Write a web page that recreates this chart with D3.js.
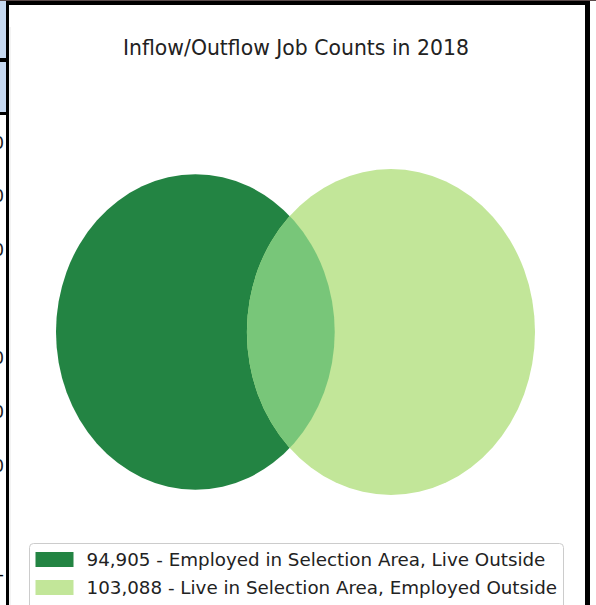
<!DOCTYPE html>
<html>
<head>
<meta charset="utf-8">
<script src="https://d3js.org/d3.v7.min.js"></script>
<style>
  body { margin: 0; background: #fff; }
  text { font-family: "DejaVu Sans", sans-serif; }
</style>
</head>
<body>
<div id="venn"></div>
<script>
// chart data
var title = "Inflow/Outflow Job Counts in 2018";
var setLabels = ["Employed in Selection Area, Live Outside", "Live in Selection Area, Employed Outside"];
var setCounts = [94905, 103088];
var overlapCount = 24300; // estimated, not labelled in the picture
var setColors = ["#238443", "#c2e699"];
var overlapColor = "#78c679";
// cut-off table digits on the left edge
var edgeDigits = ["0", "0", "0", "0", "0", "0"];
var edgeDigitY = [143, 196, 250, 358, 412, 466];

var width = 596;
var height = 605;

var svg = d3.select("#venn")
    .append("svg")
    .attr("width", width)
    .attr("height", height);

// ---- page frame around the chart ----
svg.append("rect").attr("x", 0).attr("y", 0).attr("width", 7).attr("height", 113).style("fill", "#c6d9f1");
svg.append("rect").attr("x", 0).attr("y", 58).attr("width", 8).attr("height", 4).style("fill", "#000");
svg.append("rect").attr("x", 0).attr("y", 112).attr("width", 8).attr("height", 3).style("fill", "#000");
svg.append("rect").attr("x", 0).attr("y", 0).attr("width", width).attr("height", 1).style("fill", "#5a4a4a");
svg.append("rect").attr("x", 6).attr("y", 1).attr("width", 584).attr("height", 4).style("fill", "#000");
svg.append("rect").attr("x", 6).attr("y", 1).attr("width", 3).attr("height", height).style("fill", "#000");
svg.append("rect").attr("x", 585).attr("y", 1).attr("width", 5).attr("height", height).style("fill", "#000");
svg.append("rect").attr("x", 9).attr("y", 27).attr("width", 2).attr("height", height).style("fill", "#f3f3f3");

svg.selectAll(".edge-digit")
    .data(edgeDigits)
    .enter()
    .append("text")
    .attr("class", "edge-digit")
    .attr("x", 4)
    .attr("y", (d, i) => edgeDigitY[i] + 6)
    .attr("text-anchor", "end")
    .style("font-size", "17px")
    .style("fill", "#222")
    .text(d => d);
svg.append("text")
    .attr("x", 4).attr("y", 580)
    .attr("text-anchor", "end")
    .style("font-size", "17px")
    .text("-");

// ---- venn layout (area proportional) ----
var areaA = setCounts[0] + overlapCount;
var areaB = setCounts[1] + overlapCount;
var rA = Math.sqrt(areaA / Math.PI);
var rB = Math.sqrt(areaB / Math.PI);

function lensArea(r1, r2, d) {
    if (d >= r1 + r2) return 0;
    if (d <= Math.abs(r1 - r2)) return Math.PI * Math.min(r1, r2) * Math.min(r1, r2);
    var a1 = Math.acos((d * d + r1 * r1 - r2 * r2) / (2 * d * r1));
    var a2 = Math.acos((d * d + r2 * r2 - r1 * r1) / (2 * d * r2));
    var k = Math.sqrt((-d + r1 + r2) * (d + r1 - r2) * (d - r1 + r2) * (d + r1 + r2));
    return r1 * r1 * a1 + r2 * r2 * a2 - 0.5 * k;
}

// bisection for centre distance giving the overlap area
var lo = Math.abs(rA - rB), hi = rA + rB;
for (var it = 0; it < 60; it++) {
    var mid = (lo + hi) / 2;
    if (lensArea(rA, rB, mid) > overlapCount) lo = mid; else hi = mid;
}
var dist = (lo + hi) / 2;
var centers = [0, dist];
var radii = [rA, rB];

var x = d3.scaleLinear().domain([-rA, dist + rB]).range([56, 535]);
var y = d3.scaleLinear().domain([-rB, rB]).range([495, 169]);

var circles = centers.map((c, i) => ({
    cx: x(c),
    cy: y(0),
    rx: x(c + radii[i]) - x(c),
    ry: y(0) - y(radii[i])
}));

svg.append("defs")
    .append("clipPath")
    .attr("id", "clipA")
    .append("ellipse")
    .attr("cx", circles[0].cx)
    .attr("cy", circles[0].cy)
    .attr("rx", circles[0].rx)
    .attr("ry", circles[0].ry);

svg.selectAll(".set")
    .data(circles)
    .enter()
    .append("ellipse")
    .attr("class", "set")
    .attr("cx", d => d.cx)
    .attr("cy", d => d.cy)
    .attr("rx", d => d.rx)
    .attr("ry", d => d.ry)
    .style("fill", (d, i) => setColors[i]);

// intersection
svg.append("ellipse")
    .attr("cx", circles[1].cx)
    .attr("cy", circles[1].cy)
    .attr("rx", circles[1].rx)
    .attr("ry", circles[1].ry)
    .attr("clip-path", "url(#clipA)")
    .style("fill", overlapColor);

// title
svg.append("text")
    .attr("x", 296)
    .attr("y", 55)
    .attr("text-anchor", "middle")
    .style("font-size", "20.4px")
    .style("fill", "#222")
    .text(title);

// ---- legend ----
var legend = svg.append("g")
    .attr("class", "legend")
    .attr("transform", "translate(29.5,543.5)");

legend.append("rect")
    .attr("width", 534)
    .attr("height", 90)
    .attr("rx", 4)
    .style("fill", "#fff")
    .style("stroke", "#cccccc")
    .style("stroke-width", 1);

var fmt = d3.format(",");
var rows = legend.selectAll(".row")
    .data(setCounts)
    .enter()
    .append("g")
    .attr("class", "row")
    .attr("transform", (d, i) => "translate(0," + (i * 28) + ")");

rows.append("rect")
    .attr("x", 6)
    .attr("y", 8.5)
    .attr("width", 38)
    .attr("height", 15)
    .style("fill", (d, i) => setColors[i]);

rows.append("text")
    .attr("x", 57)
    .attr("y", 22.5)
    .style("font-size", "18.3px")
    .style("fill", "#222")
    .text((d, i) => fmt(d) + " - " + setLabels[i]);
</script>
</body>
</html>
